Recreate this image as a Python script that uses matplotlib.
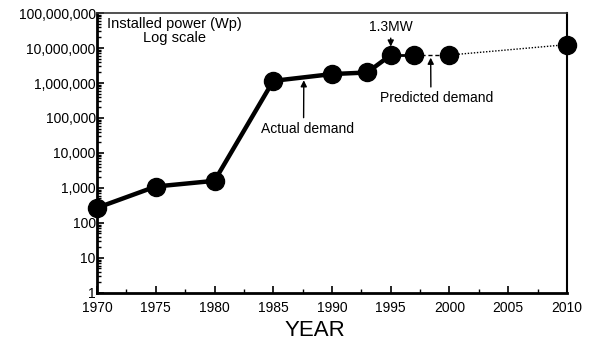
import matplotlib
matplotlib.use("Agg")
import matplotlib.pyplot as plt
import numpy as np
from matplotlib.ticker import FuncFormatter, LogLocator, MultipleLocator

plt.rcParams['font.family'] = ['Liberation Sans', 'DejaVu Sans']

# actual installed power (Wp)
actual_years = [1970, 1975, 1980, 1985, 1990, 1993, 1995]
actual_power = [270, 1100, 1600, 1.15e6, 1.8e6, 2.0e6, 6.3e6]

# predicted demand
pred_years = [1995, 1997, 2000, 2010]
pred_power = [6.3e6, 6.3e6, 6.3e6, 1.25e7]

year_ticks = [1970, 1975, 1980, 1985, 1990, 1995, 2000, 2005, 2010]
power_ticks = [1, 10, 100, 1e3, 1e4, 1e5, 1e6, 1e7, 1e8]

fig = plt.figure(figsize=(5.93, 3.43), dpi=100)
ax = fig.add_axes([0.1636, 0.146, 0.7925, 0.816])

ax.plot(actual_years, actual_power, color='black', lw=3.2, zorder=3)
ax.plot(pred_years[:2], pred_power[:2], color='black', lw=2.0, zorder=3)
ax.plot(pred_years[1:3], pred_power[1:3], color='black', lw=1.0,
        ls=(0, (3, 2)), zorder=3)
ax.plot(pred_years[2:], pred_power[2:], color='black', lw=1.0,
        ls=(0, (1, 1.2)), zorder=3)
ax.plot(actual_years + pred_years[1:], actual_power + pred_power[1:],
        ls='none', marker='o', ms=13, color='black', zorder=4, clip_on=False)

ax.set_yscale('log')
ax.set_xlim(1970, 2010)
ax.set_ylim(1, 1e8)
ax.set_xticks(year_ticks)
ax.xaxis.set_minor_locator(MultipleLocator(2.5))
ax.set_yticks(power_ticks)
ax.yaxis.set_minor_locator(LogLocator(base=10, subs=np.arange(2, 10), numticks=20))
ax.yaxis.set_major_formatter(FuncFormatter(lambda v, p: '{:,.0f}'.format(v)))
ax.tick_params(which='both', direction='in', labelsize=10,
               right=False, top=False)
ax.tick_params(axis='y', pad=1)
ax.tick_params(axis='x', pad=5.5)
ax.tick_params(which='major', length=5, width=1.2)
ax.tick_params(which='minor', length=3, width=1.0)

for side in ['left', 'bottom']:
    ax.spines[side].set_linewidth(2.0)
ax.spines['right'].set_linewidth(1.5)
ax.spines['top'].set_linewidth(1.2)
ax.spines['top'].set_color('#333333')

ax.set_xlabel('YEAR', fontsize=16)
ax.xaxis.set_label_coords(0.464, -0.095)

ax.text(1976.6, 3.0e7, 'Installed power (Wp)\nLog scale', ha='center',
        va='center', fontsize=10.5, linespacing=1.0)

arrow = dict(arrowstyle='-|>', color='black', lw=1.0, mutation_scale=9,
             shrinkA=1, shrinkB=0)
ax.annotate('Actual demand', xy=(1987.6, 1.2e6), xytext=(1987.9, 4.9e4),
            ha='center', va='center', fontsize=10,
            arrowprops=dict(arrow, relpos=(0.46, 1.0)))
ax.annotate('1.3MW', xy=(1995, 1.1e7), xytext=(1995, 4.0e7),
            ha='center', va='center', fontsize=10,
            arrowprops=arrow)
ax.annotate('Predicted demand', xy=(1998.4, 5.3e6), xytext=(1998.9, 3.7e5),
            ha='center', va='center', fontsize=10,
            arrowprops=dict(arrow, relpos=(0.45, 1.0)))

fig.savefig('out.png', dpi=100)
